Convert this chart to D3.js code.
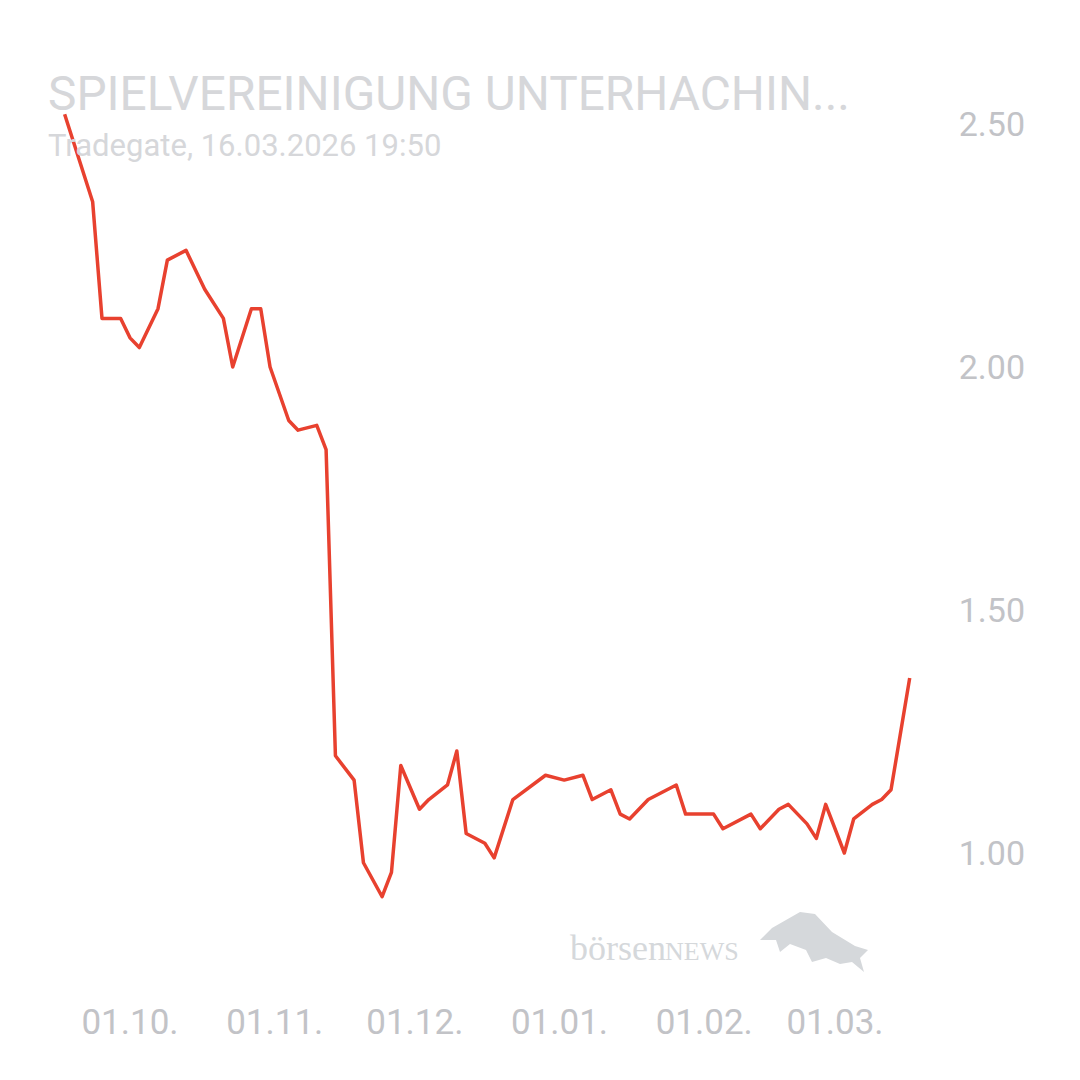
<!DOCTYPE html>
<html>
<head>
<meta charset="utf-8">
<script src="https://cdn.jsdelivr.net/npm/d3@7"></script>
<style>
  body { margin: 0; background: #fff; }
  svg { display: block; font-family: Roboto, "Noto Sans", sans-serif; }
</style>
</head>
<body>
<svg id="chart" width="1080" height="1080"></svg>
<script>
var dates = ["2025-09-17","2025-09-23","2025-09-25","2025-09-29","2025-10-01","2025-10-03","2025-10-07","2025-10-09",
  "2025-10-13","2025-10-17","2025-10-21","2025-10-23","2025-10-27","2025-10-29","2025-10-31","2025-11-04",
  "2025-11-06","2025-11-10","2025-11-12","2025-11-14","2025-11-18","2025-11-20","2025-11-24","2025-11-26",
  "2025-11-28","2025-12-02","2025-12-04","2025-12-08","2025-12-10","2025-12-12","2025-12-16","2025-12-18",
  "2025-12-22","2025-12-29","2026-01-02","2026-01-06","2026-01-08","2026-01-12","2026-01-14","2026-01-16",
  "2026-01-20","2026-01-26","2026-01-28","2026-02-03","2026-02-05","2026-02-11","2026-02-13","2026-02-17",
  "2026-02-19","2026-02-23","2026-02-25","2026-02-27","2026-03-03","2026-03-05","2026-03-09","2026-03-11",
  "2026-03-13","2026-03-17"];
var prices = [2.52,2.34,2.10,2.10,2.06,2.04,2.12,2.22,
  2.24,2.16,2.10,2.00,2.12,2.12,2.00,1.89,
  1.87,1.88,1.83,1.20,1.15,0.98,0.91,0.96,
  1.18,1.09,1.11,1.14,1.21,1.04,1.02,0.99,
  1.11,1.16,1.15,1.16,1.11,1.13,1.08,1.07,
  1.11,1.14,1.08,1.08,1.05,1.08,1.05,1.09,
  1.10,1.06,1.03,1.10,1.00,1.07,1.10,1.11,
  1.13,1.36];
var yTicks = [1.0, 1.5, 2.0, 2.5];
var xTicks = ["2025-10-01","2025-11-01","2025-12-01","2026-01-01","2026-02-01","2026-03-01"];
var title = "SPIELVEREINIGUNG UNTERHACHIN...";
var subtitle = "Tradegate, 16.03.2026 19:50";

var parse = d3.timeParse("%Y-%m-%d");
var data = dates.map(function(d, i) { return {date: parse(d), value: prices[i]}; });

var svg = d3.select("#chart");

var x = d3.scaleTime()
    .domain([parse("2025-10-01"), parse("2026-03-01")])
    .range([130, 835]);
var y = d3.scaleLinear().domain([1.0, 2.5]).range([853, 124]);

// watermark
var wm = svg.append("g").attr("fill", "#d5d8db");
wm.append("text").attr("x", 570).attr("y", 960)
    .attr("font-family", "'Liberation Serif', serif").attr("font-size", 36)
    .text("börsen");
wm.append("text").attr("x", 665).attr("y", 960)
    .attr("font-family", "'Liberation Serif', serif").attr("font-size", 26)
    .text("NEWS");
wm.append("path")
    .attr("d", "M760,940 L772,928 L800,912 L815,914 L832,932 L855,946 L868,950 L860,958 L864,972 L852,962 L840,964 L826,958 L812,962 L806,950 L790,944 L780,952 L776,940 Z");

// y axis labels
svg.append("g").selectAll("text").data(yTicks).enter().append("text")
    .attr("x", 1025).attr("y", function(d) { return y(d) + 12; })
    .attr("text-anchor", "end").attr("font-size", 34).attr("fill", "#c2c3c7")
    .text(function(d) { return d3.format(".2f")(d); });

// x axis labels
svg.append("g").selectAll("text").data(xTicks).enter().append("text")
    .attr("x", function(d) { return x(parse(d)); }).attr("y", 1034)
    .attr("text-anchor", "middle").attr("font-size", 35).attr("fill", "#c2c3c7")
    .text(function(d) { return d3.timeFormat("%d.%m.")(parse(d)); });

// price line
var line = d3.line()
    .x(function(d) { return x(d.date); })
    .y(function(d) { return y(d.value); });
svg.append("path").datum(data)
    .attr("d", line).attr("fill", "none")
    .attr("stroke", "#e8412f").attr("stroke-width", 3.5)
    .attr("stroke-linejoin", "round");

// titles
svg.append("text").attr("x", 48).attr("y", 110)
    .attr("font-size", 47.8).attr("fill", "#d6d7da").text(title);
svg.append("text").attr("x", 48).attr("y", 156)
    .attr("font-size", 31).attr("fill", "#d6d7da").text(subtitle);
</script>
</body>
</html>
